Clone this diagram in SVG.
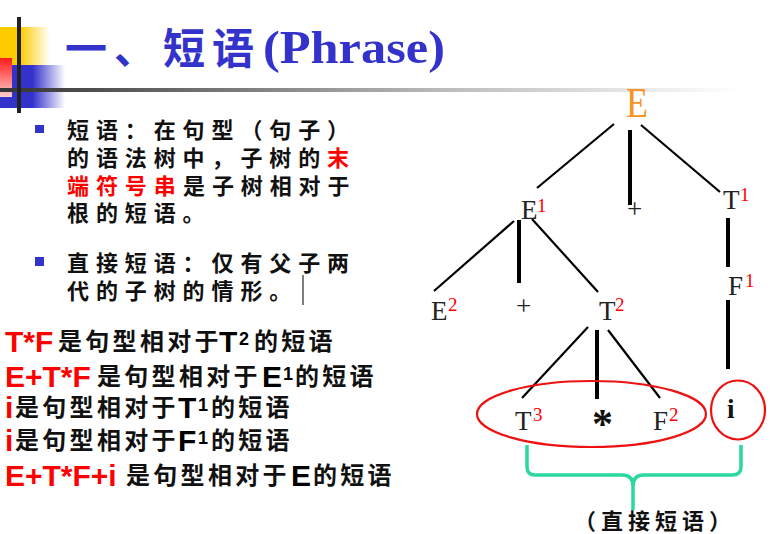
<svg xmlns="http://www.w3.org/2000/svg" width="770" height="534" viewBox="0 0 770 534">
<defs>
<linearGradient id="gY" x1="0" y1="0" x2="1" y2="0"><stop offset="0" stop-color="#ffcc00"/><stop offset="0.4" stop-color="#ffcc00"/><stop offset="1" stop-color="#ffcc00" stop-opacity="0"/></linearGradient>
<linearGradient id="gB" x1="0" y1="0" x2="1" y2="0"><stop offset="0" stop-color="#3333cc"/><stop offset="0.5" stop-color="#3333cc"/><stop offset="1" stop-color="#3333cc" stop-opacity="0"/></linearGradient>
<linearGradient id="gR" x1="0" y1="0" x2="0" y2="1"><stop offset="0" stop-color="#ff1a1a"/><stop offset="1" stop-color="#ffcccc"/></linearGradient>
<linearGradient id="gH" x1="0" y1="0" x2="1" y2="0"><stop offset="0" stop-color="#333333"/><stop offset="0.6" stop-color="#bbbbbb"/><stop offset="1" stop-color="#ffffff"/></linearGradient>
<style>
.cjk{font-family:"Noto Sans CJK SC","Noto Sans CJK JP",sans-serif;font-weight:bold;fill:#111}
.b{font-size:22px;letter-spacing:6.9px}
.l{font-size:24px;letter-spacing:3.3px}
.lat{font-family:"Liberation Sans",Arial,sans-serif;font-weight:bold;font-size:30px}
.red{fill:#ff0000}
.blk{fill:#000}
.sup{font-family:"Liberation Sans",Arial,sans-serif;font-weight:bold;font-size:18px;fill:#000}
.nd{font-family:"Liberation Serif","Times New Roman",serif;font-size:27px;fill:#222}
.ns{font-family:"Liberation Serif","Times New Roman",serif;font-size:19px;fill:#ff0000}
.thin{stroke:#000;stroke-width:2.2;fill:none}
.thick{stroke:#000;stroke-width:4;fill:none}
</style>
</defs>
<rect width="770" height="534" fill="#ffffff"/>
<g id="decor">
<rect x="0" y="27" width="50" height="38" fill="url(#gY)"/>
<rect x="0" y="65" width="65" height="43" fill="url(#gB)"/>
<rect x="0" y="58" width="12" height="39" fill="url(#gR)"/>
<rect x="0" y="88" width="740" height="4" fill="url(#gH)"/>
<rect x="17" y="17" width="4" height="96" fill="#222222"/>
</g>
<g id="title">
<text x="65" y="64" font-family="Noto Sans CJK SC, sans-serif" font-weight="bold" font-size="42" letter-spacing="7" fill="#3333cc">一、短语</text>
<text x="263" y="63" font-family="Liberation Serif, serif" font-weight="bold" font-size="46" fill="#3333cc" textLength="182" lengthAdjust="spacingAndGlyphs">(Phrase)</text>
</g>
<g id="bullets">
<rect x="35" y="125" width="9" height="8" fill="#3333cc"/>
<rect x="35" y="257" width="9" height="9" fill="#3333cc"/>
<text class="cjk b" x="67" y="138">短语：在句型（句子）</text>
<text class="cjk b" x="67" y="166">的语法树中，子树的<tspan class="red">末</tspan></text>
<text class="cjk b red" x="67" y="194">端符号串</text>
<text class="cjk b" x="183" y="194">是子树相对于</text>
<text class="cjk b" x="67" y="221">根的短语。</text>
<text class="cjk b" x="67" y="271">直接短语：仅有父子两</text>
<text class="cjk b" x="67" y="299">代的子树的情形。</text>
<line x1="303" y1="275" x2="303" y2="305" stroke="#000" stroke-width="1"/>
</g>
<g id="examples">
<text class="lat red" x="5" y="352">T*F</text>
<text class="cjk l" x="58" y="350">是句型相对于</text>
<text class="lat blk" x="219" y="352">T</text>
<text class="sup" x="239" y="345">2</text>
<text class="cjk l" x="254" y="350">的短语</text>

<text class="lat red" x="5" y="387">E+T*F</text>
<text class="cjk l" x="97" y="385">是句型相对于</text>
<text class="lat blk" x="262" y="387">E</text>
<text class="sup" x="283" y="380">1</text>
<text class="cjk l" x="295" y="385">的短语</text>

<text class="lat red" x="5" y="418">i</text>
<text class="cjk l" x="15" y="416">是句型相对于</text>
<text class="lat blk" x="178" y="418">T</text>
<text class="sup" x="198" y="411">1</text>
<text class="cjk l" x="211" y="416">的短语</text>

<text class="lat red" x="5" y="451">i</text>
<text class="cjk l" x="15" y="449">是句型相对于</text>
<text class="lat blk" x="178" y="451">F</text>
<text class="sup" x="198" y="444">1</text>
<text class="cjk l" x="211" y="449">的短语</text>

<text class="lat red" x="5" y="486">E+T*F+i</text>
<text class="cjk l" x="126" y="484">是句型相对于</text>
<text class="lat blk" x="291" y="486">E</text>
<text class="cjk l" x="313" y="484">的短语</text>
</g>
<g id="connectors">
<line class="thin" x1="614" y1="124" x2="537" y2="188"/>
<line class="thick" x1="630" y1="130" x2="630" y2="205"/>
<line class="thin" x1="641" y1="125" x2="720" y2="192"/>
<line class="thin" x1="514" y1="221" x2="434" y2="291"/>
<line class="thick" x1="519" y1="220" x2="519" y2="283"/>
<line class="thin" x1="532" y1="219" x2="598" y2="292"/>
<line class="thick" x1="728" y1="218" x2="728" y2="267"/>
<line class="thick" x1="728" y1="300" x2="728" y2="369"/>
<line class="thin" x1="588" y1="327" x2="522" y2="398"/>
<line class="thick" x1="597" y1="330" x2="597" y2="399"/>
<line class="thin" x1="608" y1="330" x2="660" y2="398"/>
<ellipse cx="591.5" cy="414" rx="114.5" ry="33" fill="none" stroke="#ee1111" stroke-width="2.2"/>
<ellipse cx="738" cy="410" rx="27" ry="29.5" fill="none" stroke="#ee1111" stroke-width="2.2"/>
<path d="M527,445 L527,467 Q527,475 535,475 L622,475 Q633,475 633,486 L633,510 M633,486 Q633,475 644,475 L732,475 Q741,475 741,467 L741,445" fill="none" stroke="#2bd99f" stroke-width="3.5" stroke-linejoin="round"/>
</g>
<g id="node-E">
<text x="626" y="117" font-family="Liberation Serif, serif" font-size="42" fill="#f7931e" textLength="22" lengthAdjust="spacingAndGlyphs">E</text>
</g>
<g id="node-E1"><text class="nd" x="521" y="219">E</text><text class="ns" x="537" y="212">1</text></g>
<g id="node-plus1"><text class="nd" x="627" y="218">+</text></g>
<g id="node-T1"><text class="nd" x="723" y="209">T</text><text class="ns" x="740" y="201">1</text></g>
<g id="node-F1"><text class="nd" x="728" y="295">F</text><text class="ns" x="745" y="287">1</text></g>
<g id="node-E2"><text class="nd" x="431" y="320">E</text><text class="ns" x="448" y="311">2</text></g>
<g id="node-plus2"><text class="nd" x="516" y="315">+</text></g>
<g id="node-T2"><text class="nd" x="599" y="320">T</text><text class="ns" x="615" y="311">2</text></g>
<g id="node-T3"><text class="nd" x="515" y="430">T</text><text class="ns" x="533" y="421">3</text></g>
<g id="node-star"><text x="592" y="438" font-family="Liberation Serif, serif" font-weight="bold" font-size="42" fill="#111">*</text></g>
<g id="node-F2"><text class="nd" x="653" y="430">F</text><text class="ns" x="669" y="421">2</text></g>
<g id="node-i"><text x="727" y="418" font-family="Liberation Serif, serif" font-weight="bold" font-size="27" fill="#111">i</text></g>
<g id="label"><text class="cjk" x="574" y="529" font-size="22" letter-spacing="5">（直接短语）</text></g>
</svg>
